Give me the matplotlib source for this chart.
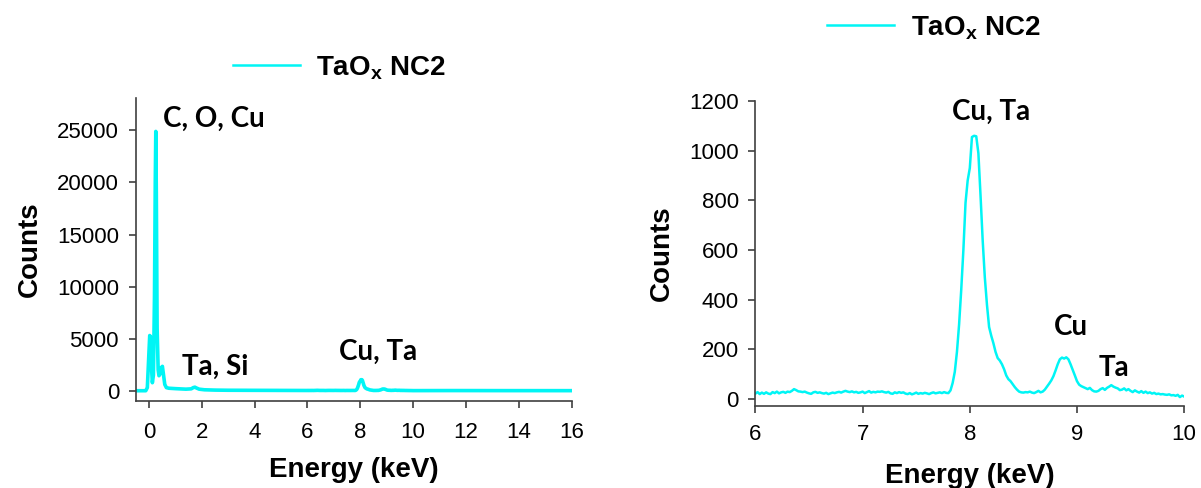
import numpy as np
import matplotlib
matplotlib.use("Agg")
import matplotlib.pyplot as plt

plt.rcParams['font.family'] = ['Liberation Sans', 'DejaVu Sans']
plt.rcParams['mathtext.fontset'] = 'custom'
plt.rcParams['mathtext.rm'] = 'Liberation Sans'
plt.rcParams['mathtext.bf'] = 'Liberation Sans:bold'

SAMPLE = "TaO$_{\\mathbf{x}}$ NC2"
LINE_COLOR = '#00F5F5'

# low-energy part of the survey spectrum (keV, counts)
low_energy = [-0.46, -0.12, -0.06, 0.00, 0.03, 0.06, 0.09, 0.13, 0.17, 0.21,
              0.24, 0.26, 0.28, 0.31, 0.35, 0.38, 0.42, 0.46, 0.51, 0.55,
              0.60, 0.66, 0.75, 0.85, 1.00, 1.20, 1.40, 1.60, 1.68, 1.74,
              1.80, 1.90, 2.10, 2.50, 3.00, 4.00, 5.00, 5.98]
low_counts = [0, 0, 300, 3500, 5300, 5200, 2600, 770, 1500, 9000,
              20000, 24900, 19000, 6000, 2000, 1440, 1600, 2200, 2340, 1600,
              600, 300, 240, 220, 200, 170, 150, 180, 300, 340,
              260, 150, 90, 60, 45, 35, 30, 25]

# 6-10 keV detail, 0.02 keV channels starting at 6.00 keV
detail_start = 6.0
detail_step = 0.02
detail_counts = [
    22, 28, 20, 26, 21, 27, 22, 20, 28, 24,   # 6.00
    30, 23, 27, 29, 25, 30, 28, 33, 40, 36,   # 6.20
    31, 30, 28, 30, 26, 23, 21, 27, 29, 25,   # 6.40
    27, 24, 22, 25, 20, 23, 26, 24, 27, 29,   # 6.60
    26, 30, 33, 30, 28, 31, 27, 29, 25, 27,   # 6.80
    30, 24, 28, 32, 26, 29, 27, 30, 29, 31,   # 7.00
    28, 26, 29, 23, 21, 27, 24, 28, 25, 27,   # 7.20
    22, 20, 24, 19, 22, 26, 21, 24, 22, 25,   # 7.40
    23, 20, 24, 27, 23, 25, 27, 24, 28, 25,   # 7.60
    24, 35, 65, 110, 190, 300, 440, 600, 790, 880,   # 7.80
    930, 1055, 1060, 1058, 990, 820, 640, 490, 380, 290,   # 8.00
    255, 225, 190, 165, 155, 140, 120, 95, 80, 72,   # 8.20
    60, 48, 38, 30, 27, 26, 28, 27, 30, 26,   # 8.40
    24, 28, 33, 27, 30, 38, 50, 62, 75, 92,   # 8.60
    115, 140, 160, 167, 163, 168, 160, 140, 118, 95,   # 8.80
    72, 58, 52, 48, 44, 40, 45, 36, 31, 30,   # 9.00
    33, 40, 44, 37, 45, 50, 56, 50, 46, 43,   # 9.20
    36, 38, 43, 35, 40, 33, 28, 35, 30, 26,   # 9.40
    32, 25, 30, 24, 27, 22, 25, 20, 22, 19,   # 9.60
    20, 18, 17, 19, 15, 16, 13, 17, 8, 14,   # 9.80
    10,                                      # 10.00
]

# high-energy tail of the survey spectrum
high_energy = [10.5, 11.0, 11.5, 12.0, 12.5, 13.0, 13.5, 14.0, 14.5, 15.0, 15.5, 16.0]
high_counts = [14, 12, 15, 11, 10, 12, 9, 8, 10, 7, 8, 6]

detail_energy = detail_start + detail_step * np.arange(len(detail_counts))

survey_energy = np.concatenate([low_energy, detail_energy, high_energy])
survey_counts = np.concatenate([low_counts, detail_counts, high_counts])

fig = plt.figure(figsize=(12.01, 4.88), dpi=100)
ax1 = fig.add_axes([0.113, 0.178, 0.363, 0.621])
ax2 = fig.add_axes([0.629, 0.168, 0.357, 0.625])

ax1.plot(survey_energy, survey_counts, color=LINE_COLOR, lw=2.6, label=SAMPLE)
ax2.plot(detail_energy, detail_counts, color=LINE_COLOR, lw=1.8, label=SAMPLE)

ax1.set_xlim(-0.5, 16)
ax1.set_ylim(-1000, 28100)
ax1.set_xticks(range(0, 17, 2))
ax1.set_yticks(range(0, 25001, 5000))

ax2.set_xlim(6, 10)
ax2.set_ylim(-28, 1200)
ax2.set_xticks(range(6, 11))
ax2.set_yticks(range(0, 1201, 200))

for ax in (ax1, ax2):
    for side in ('top', 'right'):
        ax.spines[side].set_visible(False)
    for side in ('left', 'bottom'):
        ax.spines[side].set_color('#404040')
        ax.spines[side].set_linewidth(1.2)
    ax.tick_params(direction='out', length=5, width=1.2, color='#404040',
                   labelsize=16)
    ax.tick_params(axis='y', pad=7)
    ax.set_ylabel('Counts', fontsize=20, fontweight='bold', labelpad=10)

ax1.tick_params(axis='x', pad=10)
ax2.tick_params(axis='x', pad=8)
ax1.set_xlabel('Energy (keV)', fontsize=20, fontweight='bold', labelpad=10)
ax2.set_xlabel('Energy (keV)', fontsize=20, fontweight='bold', labelpad=13)

# peak labels
peak_font = dict(fontsize=20, fontweight='bold', family=['Lato', 'DejaVu Sans'],
                 va='center', ha='left')
ax1.text(0.55, 26100, 'C, O, Cu', **peak_font)
ax1.text(1.25, 2300, 'Ta, Si', **peak_font)
ax1.text(7.2, 3750, 'Cu, Ta', **peak_font)
ax2.text(7.83, 1155, 'Cu, Ta', **peak_font)
ax2.text(8.78, 291, 'Cu', **peak_font)
ax2.text(9.2, 125, 'Ta', **peak_font)

leg_opts = dict(frameon=False, loc='center left', borderpad=0, borderaxespad=0,
                handlelength=2.4, handletextpad=0.6,
                prop=dict(size=20, weight='bold'),
                bbox_transform=fig.transFigure)
leg1 = ax1.legend(bbox_to_anchor=(0.194, 0.861), **leg_opts)
leg2 = ax2.legend(bbox_to_anchor=(0.689, 0.943), **leg_opts)
for leg in (leg1, leg2):
    leg.get_lines()[0].set_linewidth(1.8)

fig.savefig('out.png', dpi=100)
